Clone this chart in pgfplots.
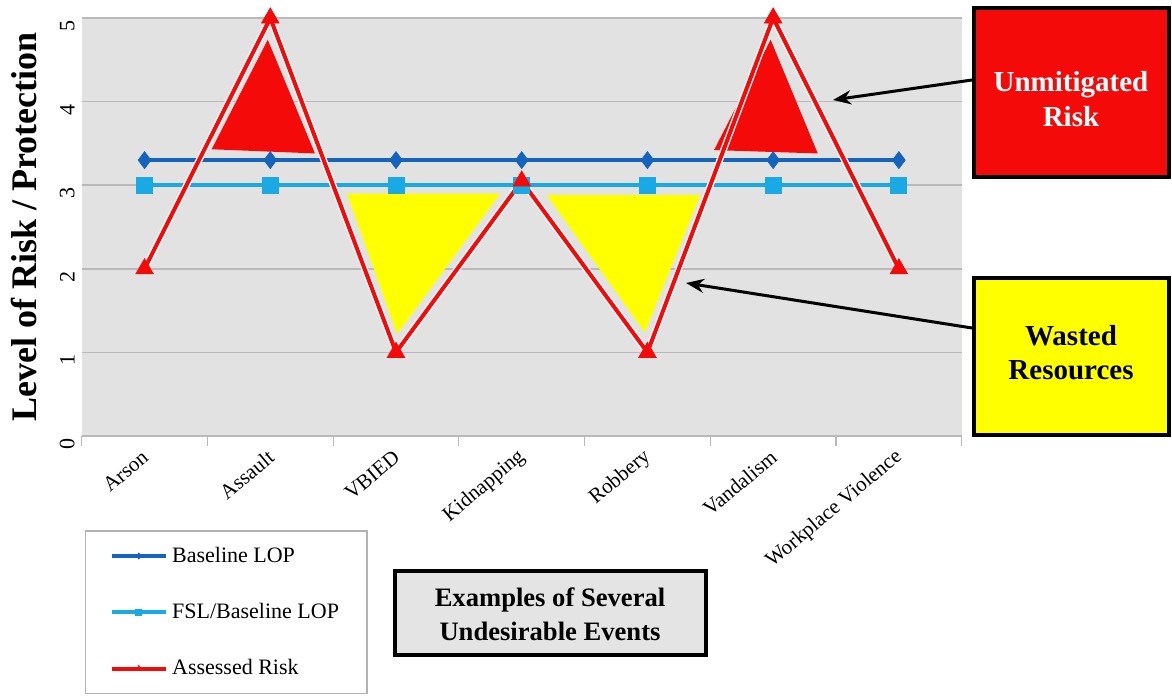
\documentclass[border=0pt]{standalone}
\usepackage{pgfplots}
\pgfplotsset{compat=1.18}
\usepackage{fontspec}
\setmainfont{Liberation Serif}
\usetikzlibrary{arrows.meta}
\definecolor{bg}{RGB}{226,226,226}
\definecolor{gridc}{RGB}{185,185,185}
\definecolor{dblue}{RGB}{20,100,190}
\definecolor{lblue}{RGB}{25,170,230}
\definecolor{rred}{RGB}{245,10,10}
\definecolor{yel}{RGB}{255,255,0}
\definecolor{boxgray}{RGB}{228,228,228}
\begin{document}
\begin{tikzpicture}[x=0.5pt,y=0.5pt]
\useasboundingbox (0,0) rectangle (1172,696);
\begin{axis}[
  at={(65,311)}, anchor=south west,
  scale only axis, width=440pt, height=209pt,
  xmin=-0.5, xmax=6.5, ymin=0, ymax=5,
  axis background/.style={fill=bg},
  axis line style={draw=none},
  ymajorgrids, grid style={gridc, line width=0.8pt},
  ytick={0,...,5},
  xtick={0,...,6},
  xticklabels={Arson,Assault,VBIED,Kidnapping,Robbery,Vandalism,Workplace Violence},
  major tick length=0pt,
  minor xtick={-0.5,0.5,...,6.5},
  minor tick length=5pt,
  minor tick style={gridc, line width=0.6pt},
  tick align=outside,
  xtick pos=bottom, ytick pos=left,
  /pgf/number format/assume math mode=true,
  yticklabel style={rotate=90, anchor=south, xshift=-4pt, font=\fontsize{11}{12}\selectfont},
  xticklabel style={xshift=3pt, rotate=40, anchor=east, font=\fontsize{10.5}{12}\selectfont},
  xticklabel shift=7pt,
  ylabel={Level of Risk / Protection},
  ylabel style={font=\bfseries\fontsize{18}{20}\selectfont, at={(axis description cs:-0.066,0.5)}, anchor=center},
  legend style={at={(axis description cs:0.0034,-0.225)}, anchor=north west,
    draw=gray!60, line width=0.8pt, fill=white,
    inner xsep=12pt, inner ysep=6pt, row sep=15pt,
    font=\fontsize{11}{13}\selectfont, cells={anchor=west}},
  legend cell align=left,
  legend image code/.code={\draw[mark repeat=2,mark phase=2,#1,mark size=1.5pt] plot coordinates {(0cm,0cm) (0.48cm,0cm) (0.96cm,0cm)};},
]
\addplot[fill=rred, draw=none, mark=none, forget plot] coordinates {(0.534,3.43) (1.355,3.38) (0.98,4.74)};
\addplot[fill=rred, draw=none, mark=none, forget plot] coordinates {(4.53,3.42) (5.355,3.38) (4.98,4.74)};
\addplot[fill=yel, draw=none, mark=none, forget plot] coordinates {(1.61,2.90) (2.83,2.90) (2.01,1.22)};
\addplot[fill=yel, draw=none, mark=none, forget plot] coordinates {(3.20,2.88) (4.42,2.88) (3.98,1.24)};
\addplot[dblue, line width=2pt, mark=diamond*, mark size=4.2pt, mark options={solid, line width=0.4pt}] coordinates {(0,3.3) (1,3.3) (2,3.3) (3,3.3) (4,3.3) (5,3.3) (6,3.3)};
\addlegendentry{Baseline LOP}
\addplot[lblue, line width=1.8pt, mark=square*, mark size=4pt, mark options={solid, line width=0.4pt}] coordinates {(0,3.0) (1,3.0) (2,3.0) (3,3.0) (4,3.0) (5,3.0) (6,3.0)};
\addlegendentry{FSL/Baseline LOP}
\addplot[white, line width=3.4pt, mark=none, forget plot] coordinates {(0,2) (1,5) (2,1) (3,3.05) (4,1) (5,5) (6,2)};
\addplot[rred, line width=2pt, mark=triangle*, mark size=5pt, mark options={solid, line width=0.4pt}] coordinates {(0,2) (1,5) (2,1) (3,3.05) (4,1) (5,5) (6,2)};
\addlegendentry{Assessed Risk}
\end{axis}
% annotation boxes
\draw[line width=2pt, fill=rred] (974,519) rectangle (1169,688);
\node[text=white, font=\bfseries\fontsize{14.5}{17.5}\selectfont, align=center] at (1071,597) {Unmitigated\\Risk};
\draw[line width=2pt, fill=yel] (974,261) rectangle (1169,418);
\node[text=black, font=\bfseries\fontsize{14.5}{17}\selectfont, align=center] at (1071,343) {Wasted\\Resources};
\draw[line width=2pt, fill=boxgray] (395,41) rectangle (706,125);
\node[font=\bfseries\fontsize{13.3}{17}\selectfont, align=center] at (550,82) {Examples of Several\\Undesirable Events};
\draw[line width=1.5pt, -{Stealth[length=9pt,width=7pt]}] (972,616) -- (833,596);
\draw[line width=1.5pt, -{Stealth[length=9pt,width=7pt]}] (972,368) -- (686,413);
\end{tikzpicture}
\end{document}
